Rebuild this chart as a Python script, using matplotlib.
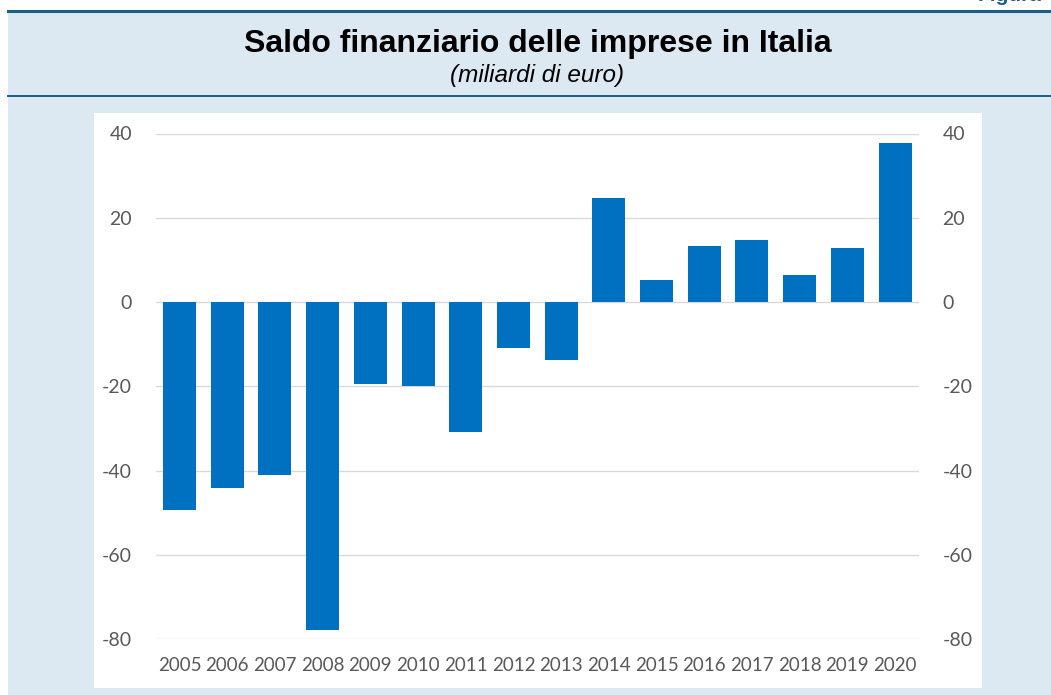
import numpy as np
import matplotlib.pyplot as plt
from matplotlib.patches import Rectangle
from matplotlib.lines import Line2D

#%% Data
years = ["2005", "2006", "2007", "2008", "2009", "2010", "2011", "2012",
         "2013", "2014", "2015", "2016", "2017", "2018", "2019", "2020"]
saldo = [-49.4, -44.0, -41.1, -77.9, -19.5, -20.0, -30.7, -11.0,
         -13.8, 24.8, 5.2, 13.4, 14.7, 6.4, 12.9, 37.7]
y_ticks = [-80, -60, -40, -20, 0, 20, 40]

title = "Saldo finanziario delle imprese in Italia"
subtitle = "(miliardi di euro)"

#%% Figure / panel
W, H = 1051, 695
fig = plt.figure(figsize=(W / 100, H / 100), dpi=100)
fig.patch.set_facecolor("white")

panel_col = "#dde9f2"
line_col = "#1b5e86"
tick_col = "#595959"

def fx(px):
    return px / W

def fy(py):
    return 1 - py / H

# light blue background panel
fig.add_artist(Rectangle((fx(8), 0), 1, fy(11), transform=fig.transFigure,
                         facecolor=panel_col, edgecolor="none", zorder=0))
# white chart area
fig.add_artist(Rectangle((fx(94), fy(688)), fx(982) - fx(94), fy(113) - fy(688),
                         transform=fig.transFigure, facecolor="white",
                         edgecolor="none", zorder=0))
# rules
fig.add_artist(Line2D([fx(8), 1], [fy(11), fy(11)], transform=fig.transFigure,
                      color=line_col, lw=2.2))
fig.add_artist(Line2D([fx(8), 1], [fy(96), fy(96)], transform=fig.transFigure,
                      color=line_col, lw=1.4))

# label cut off at the top right edge (as in the source)
fig.text(fx(978), fy(1), "Figura", fontsize=15, fontweight="bold",
         color=line_col, family="Liberation Sans", va="baseline", ha="left")

fig.text(fx(538), fy(52), title, fontsize=23, fontweight="bold",
         family="Liberation Sans", ha="center", va="baseline", color="black")
fig.text(fx(537), fy(82), subtitle, fontsize=17.5, style="italic",
         family="Liberation Sans", ha="center", va="baseline", color="black")

#%% Chart
ax = fig.add_axes([fx(155.7), fy(639.3), fx(918.9) - fx(155.7), fy(133.5) - fy(639.3)])
ax.set_facecolor("none")
x = np.arange(len(years))
ax.bar(x, saldo, width=0.69, color="#0070c0", zorder=3)
ax.set_xlim(-0.5, len(years) - 0.5)
ax.set_ylim(-80, 40)
ax.set_yticks(y_ticks)
ax.set_yticklabels([str(t) for t in y_ticks])
ax.set_xticks(x)
ax.set_xticklabels(years)
ax.grid(axis="y", color="#d9d9d9", lw=1, zorder=0)
for s in ax.spines.values():
    s.set_visible(False)
ax.tick_params(axis="y", length=0, pad=17, labelsize=14, labelcolor=tick_col,
               labelright=True)
ax.tick_params(axis="x", length=0, pad=13, labelsize=13.5, labelcolor=tick_col)
for lab in ax.get_xticklabels():
    lab.set_family("Lato")
for t in ax.yaxis.get_major_ticks():
    t.label1.set_family("Lato")
    t.label2.set_family("Lato")

fig.savefig("out.png", dpi=100)
